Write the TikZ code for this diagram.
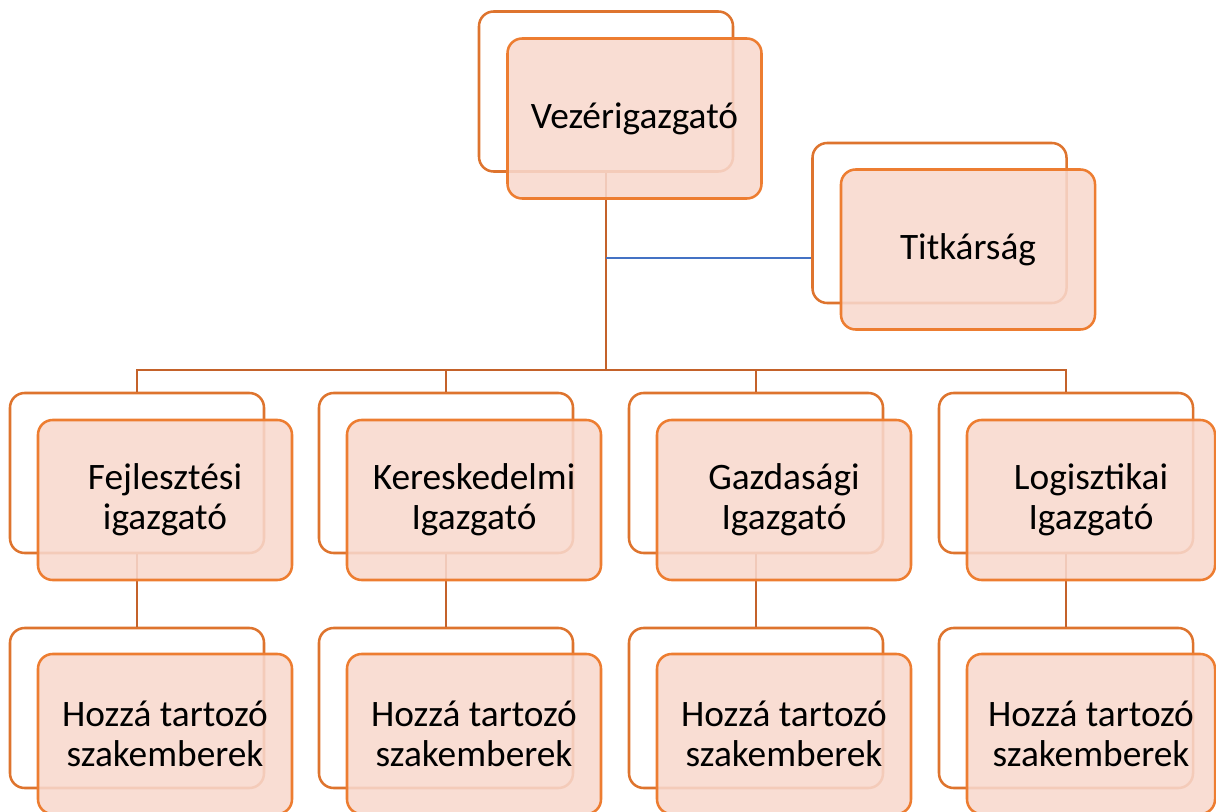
\documentclass[tikz,border=0pt]{standalone}
\usepackage{fontspec}
\setmainfont{Carlito}
\definecolor{boxorange}{RGB}{237,125,49}
\definecolor{backorange}{RGB}{222,116,46}
\definecolor{boxpink}{RGB}{248,216,205}
\definecolor{connbrown}{RGB}{196,98,42}
\definecolor{linkblue}{RGB}{68,114,196}
\tikzset{
  backbox/.style={draw=backorange, line width=1.9pt, rounded corners=11pt,
    minimum width=190.5pt, minimum height=120pt, inner sep=0pt},
  frontbox/.style={draw=boxorange, line width=1.9pt, rounded corners=11pt,
    fill=boxpink, fill opacity=0.88, text opacity=1,
    minimum width=190.5pt, minimum height=120pt, inner sep=0pt,
    align=center, font=\fontsize{28pt}{30pt}\selectfont},
  conn/.style={draw=connbrown, line width=1.8pt},
  bluelink/.style={draw=linkblue, line width=1pt}
}
\begin{document}
\begin{tikzpicture}[x=0.75pt,y=-0.75pt]
\useasboundingbox (0,0) rectangle (1216,812);
\clip (0,0) rectangle (1216,812);
% back boxes
\node[backbox] (vb) at (606,91.5) {};
\node[backbox] (tb) at (939.5,223) {};
\node[backbox] (b1) at (137,473) {};
\node[backbox] (b2) at (446,473) {};
\node[backbox] (b3) at (756,473) {};
\node[backbox] (b4) at (1066,473) {};
\node[backbox] (c1) at (137,708) {};
\node[backbox] (c2) at (446,708) {};
\node[backbox] (c3) at (756,708) {};
\node[backbox] (c4) at (1066,708) {};
% connectors
\coordinate (bus) at (606,370);
\coordinate (tj) at (606,258);
\draw[conn] (vb.south) -- (bus);
\draw[conn] (b1.north) |- (bus) -| (b4.north);
\draw[conn] (b2.north) |- (bus);
\draw[conn] (b3.north) |- (bus);
\draw[conn] (b1.south) -- (c1.north);
\draw[conn] (b2.south) -- (c2.north);
\draw[conn] (b3.south) -- (c3.north);
\draw[conn] (b4.south) -- (c4.north);
\draw[bluelink] (tj) -- (tb.west |- tj);
% front boxes
\node[frontbox] (v) at (634.5,118.5) {Vezérigazgató};
\node[frontbox] (t) at (968,249.5) {Titkárság};
\node[frontbox] (f1) at (165,500) {Fejlesztési\\igazgató};
\node[frontbox] (f2) at (474,500) {Kereskedelmi\\Igazgató};
\node[frontbox] (f3) at (784,500) {Gazdasági\\Igazgató};
\node[frontbox, minimum width=186pt] (f4) at (1091,500) {Logisztikai\\Igazgató};
\node[frontbox] (g1) at (165,734) {Hozzá tartozó\\szakemberek};
\node[frontbox] (g2) at (474,734) {Hozzá tartozó\\szakemberek};
\node[frontbox] (g3) at (784,734) {Hozzá tartozó\\szakemberek};
\node[frontbox, minimum width=186pt] (g4) at (1091,734) {Hozzá tartozó\\szakemberek};
\end{tikzpicture}
\end{document}
